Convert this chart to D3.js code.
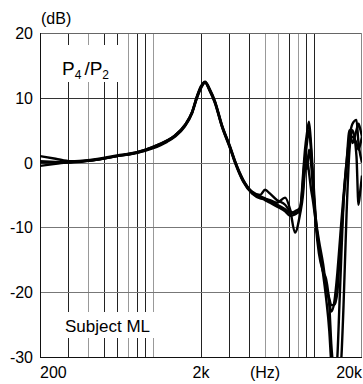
<!DOCTYPE html>
<html>
<head>
<meta charset="utf-8">
<script src="https://cdn.jsdelivr.net/npm/d3@7"></script>
<style>
	body { margin: 0; background: #fff; }
	svg { display: block; font-family: "Liberation Sans", Arial, sans-serif; }
</style>
</head>
<body>
<div id="chart"></div>
<script>
// frequency points (Hz) shared by all measured curves
const freqs = [200, 250, 310, 410, 600, 800, 1000, 1230, 1380, 1590, 1760, 1890, 2000, 2120, 2270, 2440, 2700, 3030, 3250, 3650, 4160, 4660, 5000, 5370, 5940, 6660, 7150, 7670,
	8240, 8600, 8850, 9100, 9370, 9640, 9930, 10360, 10800, 11440, 11980, 12530, 12890, 13460, 14060, 14480, 14900, 15360, 16030, 16730, 17460, 18480, 19020, 19580, 20000];

// P4/P2 in dB, one array per repeated measurement
const runA = [1.0, 0.6, 0.2, 0.4, 1.1, 1.6, 2.4, 3.4, 4.2, 5.8, 7.8, 10.3, 11.8, 12.5, 11.3, 9.5, 5.8, 2.5, 0.3, -2.6, -4.5, -5.0, -4.2, -4.8, -5.8, -6.5, -7.5, -7.8,
	-7.5, -2, 2, 4.5, 6.3, 3, -2, -9, -13, -17, -21, -26, -31, -34, -30, -22, -14, -6, 0, 4, 6, 6.6, 3, 1, 0];
const runB = [-0.5, -0.2, 0.1, 0.3, 1.0, 1.5, 2.2, 3.2, 4.0, 5.6, 7.6, 10.0, 11.5, 12.3, 11.0, 9.2, 5.5, 2.2, 0, -2.9, -4.8, -5.5, -5.6, -5.8, -6.2, -5.4, -7.2, -10.8,
	-8, -5, -1, 0.5, -1.5, -4, -6, -9.5, -13, -16.5, -19, -21, -22, -22, -20, -15, -11, -6, -1, 3, 4, 3, 2, 3, 4];
const runC = [0.2, 0.1, 0.0, 0.3, 1.0, 1.5, 2.3, 3.3, 4.1, 5.7, 7.7, 10.1, 11.6, 12.4, 11.1, 9.3, 5.6, 2.3, 0.1, -2.7, -4.6, -5.2, -5.5, -6.0, -6.5, -7.2, -7.8, -7.5,
	-7, -4, 0, 3, 5, 2, -3, -10, -14, -16.8, -18, -22, -28, -33, -36, -34, -30, -22, -8, 2, 5, 1, -6.5, -4, -2];
const runD = [0.0, 0.0, 0.1, 0.3, 1.0, 1.6, 2.4, 3.4, 4.2, 5.8, 7.8, 10.2, 11.7, 12.4, 11.2, 9.4, 5.7, 2.4, 0.2, -2.8, -4.7, -5.4, -5.8, -6.2, -6.8, -7.5, -8.2, -8,
	-7, -3, 1, -1, 2, 0, -4, -9, -12, -15.5, -19, -21.5, -23, -21.5, -17, -13, -9, -5, 0, 5, 3, 5, 6, 5, 4];
const runs = [runA, runB, runC, runD];

const yTicks = [20, 10, 0, -10, -20, -30];
const xGrid = [300, 400, 500, 600, 700, 800, 900, 1000, 2000, 3000, 4000, 5000, 6000, 7000, 8000, 9000, 10000];
const xGridDark = [300, 500, 600, 800, 900, 2000, 3000, 4000, 7000, 9000, 10000];

const width = 363, height = 384;
const margin = { top: 33, right: 1, bottom: 27, left: 40 };

const svg = d3.select("#chart")
	.append("svg")
	.attr("width", width)
	.attr("height", height);

svg.append("rect").attr("width", width).attr("height", height).attr("fill", "#fff");

const x = d3.scaleLog()
	.domain([200, 20000])
	.range([margin.left, width - margin.right]);
const y = d3.scaleLinear()
	.domain([-30, 20])
	.range([height - margin.bottom, margin.top]);

// grid
svg.append("g")
	.selectAll("line")
	.data(xGrid)
	.join("line")
	.attr("x1", (d) => Math.round(x(d)) + 0.5)
	.attr("x2", (d) => Math.round(x(d)) + 0.5)
	.attr("y1", y(20))
	.attr("y2", y(-30))
	.attr("stroke", (d) => (xGridDark.includes(d) ? "#222" : "#999"))
	.attr("stroke-width", 1);

svg.append("g")
	.selectAll("line")
	.data(yTicks.slice(1, -1))
	.join("line")
	.attr("x1", x(200))
	.attr("x2", x(20000))
	.attr("y1", (d) => Math.round(y(d)) + 0.5)
	.attr("y2", (d) => Math.round(y(d)) + 0.5)
	.attr("stroke", (d) => (d === 10 ? "#333" : "#777"))
	.attr("stroke-width", 1);

// frame
svg.append("line").attr("x1", x(200)).attr("x2", x(20000)).attr("y1", y(20) + 0.5).attr("y2", y(20) + 0.5).attr("stroke", "#666");
svg.append("line").attr("x1", x(20000) - 0.5).attr("x2", x(20000) - 0.5).attr("y1", y(20)).attr("y2", y(-30)).attr("stroke", "#888");
svg.append("line").attr("x1", x(200) + 0.5).attr("x2", x(200) + 0.5).attr("y1", y(20)).attr("y2", y(-30)).attr("stroke", "#111");
svg.append("line").attr("x1", x(200)).attr("x2", x(20000)).attr("y1", y(-30) + 0.5).attr("y2", y(-30) + 0.5).attr("stroke", "#111");

// white boxes behind in-plot labels
svg.append("rect").attr("x", 58).attr("y", 45).attr("width", 64).attr("height", 37).attr("fill", "#fff");
svg.append("rect").attr("x", 60).attr("y", 312).attr("width", 102).attr("height", 26).attr("fill", "#fff");

// curves
svg.append("clipPath").attr("id", "plot")
	.append("rect")
	.attr("x", x(200)).attr("y", y(20))
	.attr("width", x(20000) - x(200)).attr("height", y(-30) - y(20));

const line = d3.line()
	.x((d, i) => x(freqs[i]))
	.y((d) => y(d))
	.curve(d3.curveMonotoneX);

svg.append("g")
	.attr("clip-path", "url(#plot)")
	.selectAll("path")
	.data(runs)
	.join("path")
	.attr("d", line)
	.attr("fill", "none")
	.attr("stroke", "#000")
	.attr("stroke-width", 2.4)
	.attr("stroke-linejoin", "round");

// y tick labels
svg.append("g")
	.selectAll("text")
	.data(yTicks)
	.join("text")
	.attr("x", 33)
	.attr("y", (d) => y(d) + 6)
	.attr("text-anchor", "end")
	.attr("font-size", 16)
	.text((d) => d);

svg.append("text").attr("x", 41).attr("y", 24).attr("font-size", 16).text("(dB)");

// x tick labels
const xLabels = [
	{ f: 200, t: "200", a: "start" },
	{ f: 2000, t: "2k", a: "middle" },
	{ f: 20000, t: "20k", a: "end" }
];
svg.append("g")
	.selectAll("text")
	.data(xLabels)
	.join("text")
	.attr("x", (d) => x(d.f))
	.attr("y", 378)
	.attr("text-anchor", (d) => d.a)
	.attr("font-size", 16)
	.text((d) => d.t);
svg.append("text").attr("x", x(5000)).attr("y", 378).attr("text-anchor", "middle").attr("font-size", 16).text("(Hz)");

// P4/P2 label
const lab = svg.append("text").attr("x", 62).attr("y", 75).attr("font-size", 19);
lab.append("tspan").text("P");
lab.append("tspan").attr("font-size", 12).attr("dy", 4).text("4");
lab.append("tspan").attr("dy", -4).attr("dx", 3).text("/P");
lab.append("tspan").attr("font-size", 12).attr("dy", 4).text("2");

svg.append("text").attr("x", 65).attr("y", 332).attr("font-size", 17).text("Subject ML");
</script>
</body>
</html>
